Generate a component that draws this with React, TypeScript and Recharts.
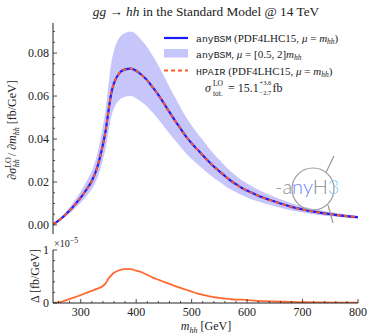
import React from 'react';
import { ComposedChart, Area, Line, XAxis, YAxis } from 'recharts';

// ---------- data ----------
const mhh = [250, 260, 270, 280, 290, 300, 310, 320, 330, 340, 345, 350, 355, 360, 370, 380, 390, 400, 410, 420, 430, 440, 450, 460, 470, 480, 490, 500, 510, 520, 530, 540, 550, 560, 570, 580, 590, 600, 620, 640, 660, 680, 700, 720, 740, 760, 780, 800];
const anyBSM = [0.0003, 0.0020, 0.0042, 0.0067, 0.0096, 0.0127, 0.0164, 0.0205, 0.0270, 0.0375, 0.0440, 0.0530, 0.0612, 0.0660, 0.0708, 0.0724, 0.0728, 0.0718, 0.0698, 0.0673, 0.0640, 0.0605, 0.0566, 0.0525, 0.0486, 0.0448, 0.0411, 0.0380, 0.0352, 0.0325, 0.0298, 0.0272, 0.0250, 0.0228, 0.0207, 0.0190, 0.0173, 0.0160, 0.0136, 0.0117, 0.0100, 0.0084, 0.0072, 0.0062, 0.0054, 0.0047, 0.0041, 0.0036];
const hpair = [0.0003, 0.0020, 0.0042, 0.0067, 0.0096, 0.0127, 0.0164, 0.0205, 0.0270, 0.0375, 0.0440, 0.0530, 0.0612, 0.0660, 0.0708, 0.0724, 0.0728, 0.0718, 0.0698, 0.0673, 0.0640, 0.0605, 0.0566, 0.0525, 0.0486, 0.0448, 0.0411, 0.0380, 0.0352, 0.0325, 0.0298, 0.0272, 0.0250, 0.0228, 0.0207, 0.0190, 0.0173, 0.0160, 0.0136, 0.0117, 0.0100, 0.0084, 0.0072, 0.0062, 0.0054, 0.0047, 0.0041, 0.0036];
const bandUpper = [0.0004, 0.0025, 0.0052, 0.0082, 0.0118, 0.0156, 0.0201, 0.0252, 0.0332, 0.0461, 0.0541, 0.0652, 0.0753, 0.0812, 0.0872, 0.0893, 0.0900, 0.0887, 0.0860, 0.0827, 0.0786, 0.0742, 0.0693, 0.0642, 0.0594, 0.0547, 0.0501, 0.0463, 0.0428, 0.0395, 0.0362, 0.0330, 0.0303, 0.0276, 0.0250, 0.0229, 0.0209, 0.0193, 0.0164, 0.0141, 0.0120, 0.0101, 0.0086, 0.0074, 0.0065, 0.0056, 0.0049, 0.0043];
const bandLower = [0.0002, 0.0016, 0.0034, 0.0054, 0.0078, 0.0103, 0.0133, 0.0166, 0.0219, 0.0304, 0.0357, 0.0432, 0.0502, 0.0543, 0.0583, 0.0597, 0.0600, 0.0590, 0.0572, 0.0550, 0.0522, 0.0492, 0.0460, 0.0426, 0.0394, 0.0363, 0.0333, 0.0307, 0.0284, 0.0262, 0.0240, 0.0219, 0.0201, 0.0183, 0.0166, 0.0152, 0.0139, 0.0128, 0.0109, 0.0094, 0.0080, 0.0067, 0.0058, 0.0050, 0.0043, 0.0038, 0.0033, 0.0029];
// difference anyBSM - HPAIR in units of 1e-5 fb/GeV
const delta = [0, 0.01, 0.04, 0.075, 0.11, 0.15, 0.19, 0.23, 0.27, 0.32, 0.37, 0.46, 0.52, 0.57, 0.62, 0.64, 0.64, 0.61, 0.58, 0.53, 0.48, 0.44, 0.40, 0.36, 0.32, 0.285, 0.25, 0.215, 0.18, 0.155, 0.13, 0.11, 0.095, 0.083, 0.072, 0.064, 0.062, 0.055, 0.042, 0.032, 0.026, 0.02, 0.016, 0.012, 0.01, 0.008, 0.006, 0.005];

const xMajorTicks = [300, 400, 500, 600, 700, 800];
const xMinorTicks = [260, 280, 320, 340, 360, 380, 420, 440, 460, 480, 520, 540, 560, 580, 620, 640, 660, 680, 720, 740, 760, 780];
const yMajorTicks = [0, 0.02, 0.04, 0.06, 0.08];
const yMinorTicks = [0.005, 0.01, 0.015, 0.025, 0.03, 0.035, 0.045, 0.05, 0.055, 0.065, 0.07, 0.075, 0.085, 0.09];
const yMajorLabels = ['0.00', '0.02', '0.04', '0.06', '0.08'];
const dMajorTicks = [0, 1];
const dMajorLabels = ['0', '1'];
const dMinorTicks = [0.2, 0.4, 0.6, 0.8];

const xDomain = [250, 800];
const yDomain = [-0.0042, 0.094];
const dDomain = [0, 1];

const mainData = mhh.map((m, i) => ({ m, central: anyBSM[i], hpair: hpair[i], band: [bandLower[i], bandUpper[i]] }));
const deltaData = mhh.map((m, i) => ({ m, delta: delta[i] }));

const allX = [...xMajorTicks, ...xMinorTicks];
const allY = [...yMajorTicks, ...yMinorTicks];
const allD = [...dMajorTicks, ...dMinorTicks];

const FONT = '"Liberation Serif", "DejaVu Serif", serif';
const MONO = '"Liberation Mono", "DejaVu Sans Mono", monospace';
const INK = '#222';
const MAJ = 4;
const MIN = 2;

const isMajor = (list: number[], v: number) => list.some((t) => Math.abs(t - v) < 1e-9);

const BottomTick = (withLabel: boolean) => (p: any) => {
  const v = p.payload.value;
  const major = isMajor(xMajorTicks, v);
  return (
    <g>
      <line x1={p.x} x2={p.x} y1={p.y} y2={p.y - (major ? MAJ : MIN)} stroke={INK} strokeWidth={0.8} />
      {withLabel && major ? (
        <text x={p.x} y={p.y + 13} textAnchor="middle" fontFamily={FONT} fontSize={12} fill={INK}>{v}</text>
      ) : null}
    </g>
  );
};
const TopTick = (p: any) => {
  const major = isMajor(xMajorTicks, p.payload.value);
  return <line x1={p.x} x2={p.x} y1={p.y} y2={p.y + (major ? MAJ : MIN)} stroke={INK} strokeWidth={0.8} />;
};
const LeftTick = (majors: number[], labels: string[]) => (p: any) => {
  const v = p.payload.value;
  const idx = majors.findIndex((t) => Math.abs(t - v) < 1e-9);
  const major = idx >= 0;
  return (
    <g>
      <line x1={p.x} x2={p.x + (major ? MAJ : MIN)} y1={p.y} y2={p.y} stroke={INK} strokeWidth={0.8} />
      {major ? (
        <text x={p.x - 4} y={p.y + 4} textAnchor="end" fontFamily={FONT} fontSize={12} fill={INK}>{labels[idx]}</text>
      ) : null}
    </g>
  );
};
const RightTick = (majors: number[]) => (p: any) => {
  const major = isMajor(majors, p.payload.value);
  return <line x1={p.x} x2={p.x - (major ? MAJ : MIN)} y1={p.y} y2={p.y} stroke={INK} strokeWidth={0.8} />;
};

const axisLine = { stroke: INK, strokeWidth: 1 };

export default function App() {
  return (
    <div style={{ position: 'absolute', left: 0, top: 0, width: 369, height: 335, background: '#fff' }}>
      <div style={{ position: 'absolute', left: 0, top: 0 }}>
        <ComposedChart width={369} height={240} data={mainData} margin={{ top: 23, right: 11, bottom: 6, left: 0 }}>
          <XAxis xAxisId="b" dataKey="m" type="number" domain={xDomain} allowDataOverflow ticks={allX} interval={0}
            height={0} tickSize={0} tickMargin={0} tickLine={false} axisLine={axisLine} tick={BottomTick(false)} />
          <XAxis xAxisId="t" orientation="top" dataKey="m" type="number" domain={xDomain} allowDataOverflow ticks={allX} interval={0}
            height={0} tickSize={0} tickMargin={0} tickLine={false} axisLine={axisLine} tick={TopTick} />
          <YAxis yAxisId="l" type="number" domain={yDomain} allowDataOverflow ticks={allY} interval={0}
            width={53} tickSize={0} tickMargin={0} tickLine={false} axisLine={axisLine} tick={LeftTick(yMajorTicks, yMajorLabels)} />
          <YAxis yAxisId="r" orientation="right" type="number" domain={yDomain} allowDataOverflow ticks={allY} interval={0}
            width={0} tickSize={0} tickMargin={0} tickLine={false} axisLine={axisLine} tick={RightTick(yMajorTicks)} />
          <Area xAxisId="b" yAxisId="l" dataKey="band" type="monotone" stroke="none" fill="#c6c6fa" fillOpacity={1} isAnimationActive={false} />
          <Line xAxisId="b" yAxisId="l" dataKey="central" type="monotone" stroke="#1a1aff" strokeWidth={2.2} dot={false} isAnimationActive={false} />
          <Line xAxisId="b" yAxisId="l" dataKey="hpair" type="monotone" stroke="#ff5a26" strokeWidth={1.8} strokeDasharray="4 3" dot={false} isAnimationActive={false} />
        </ComposedChart>
      </div>
      <div style={{ position: 'absolute', left: 0, top: 240 }}>
        <ComposedChart width={369} height={95} data={deltaData} margin={{ top: 10, right: 11, bottom: 0, left: 0 }}>
          <XAxis xAxisId="b" dataKey="m" type="number" domain={xDomain} allowDataOverflow ticks={allX} interval={0}
            height={32} tickSize={0} tickMargin={0} tickLine={false} axisLine={axisLine} tick={BottomTick(true)} />
          <XAxis xAxisId="t" orientation="top" dataKey="m" type="number" domain={xDomain} allowDataOverflow ticks={allX} interval={0}
            height={0} tickSize={0} tickMargin={0} tickLine={false} axisLine={axisLine} tick={TopTick} />
          <YAxis yAxisId="l" type="number" domain={dDomain} allowDataOverflow ticks={allD} interval={0}
            width={53} tickSize={0} tickMargin={0} tickLine={false} axisLine={axisLine} tick={LeftTick(dMajorTicks, dMajorLabels)} />
          <YAxis yAxisId="r" orientation="right" type="number" domain={dDomain} allowDataOverflow ticks={allD} interval={0}
            width={0} tickSize={0} tickMargin={0} tickLine={false} axisLine={axisLine} tick={RightTick(dMajorTicks)} />
          <Line xAxisId="b" yAxisId="l" dataKey="delta" type="monotone" stroke="#ff6a33" strokeWidth={1.8} dot={false} isAnimationActive={false} />
        </ComposedChart>
      </div>
      <svg width={369} height={335} style={{ position: 'absolute', left: 0, top: 0, pointerEvents: 'none' }}>
        {/* title */}
        <text x={206} y={16} textAnchor="middle" fontFamily={FONT} fontSize={13.3} fill={INK}>
          <tspan fontStyle="italic">gg</tspan> → <tspan fontStyle="italic">hh</tspan> in the Standard Model @ 14 TeV
        </text>
        {/* top y label */}
        <text transform="translate(15.5,130) rotate(-90)" textAnchor="middle" fontFamily={FONT} fontSize={12} fill={INK}>
          ∂<tspan fontStyle="italic">σ</tspan><tspan fontSize={8} dy={-5}>LO</tspan><tspan fontSize={8} fontStyle="italic" dx={-10} dy={8}>hh</tspan><tspan dy={-3}> / ∂</tspan><tspan fontStyle="italic">m</tspan><tspan fontSize={8} fontStyle="italic" dy={3}>hh</tspan><tspan dy={-3}> [fb/GeV]</tspan>
        </text>
        {/* bottom y label */}
        <text transform="translate(39,276) rotate(-90)" textAnchor="middle" fontFamily={FONT} fontSize={12} fill={INK}>
          Δ [fb/GeV]
        </text>
        {/* scale factor */}
        <text x={54} y={247} fontFamily={FONT} fontSize={10} fill={INK}>
          ×10<tspan fontSize={8} dy={-4}>−5</tspan>
        </text>
        {/* x label */}
        <text x={206} y={330} textAnchor="middle" fontFamily={FONT} fontSize={12} fill={INK}>
          <tspan fontStyle="italic">m</tspan><tspan fontSize={8} fontStyle="italic" dy={3}>hh</tspan><tspan dy={-3}> [GeV]</tspan>
        </text>
        {/* legend */}
        <line x1={164} x2={188} y1={38} y2={38} stroke="#1a1aff" strokeWidth={2.2} />
        <text x={196} y={42} fontFamily={FONT} fontSize={11} fill={INK}>
          <tspan fontFamily={MONO} fontSize={9.8}>anyBSM</tspan> (PDF4LHC15, <tspan fontStyle="italic">μ</tspan> = <tspan fontStyle="italic">m</tspan><tspan fontSize={7.5} fontStyle="italic" dy={2}>hh</tspan><tspan dy={-2}>)</tspan>
        </text>
        <rect x={164} y={49} width={24} height={8.5} fill="#c6c6fa" />
        <text x={196} y={57.5} fontFamily={FONT} fontSize={11} fill={INK}>
          <tspan fontFamily={MONO} fontSize={9.8}>anyBSM</tspan>, <tspan fontStyle="italic">μ</tspan> = [0.5, 2]<tspan fontStyle="italic">m</tspan><tspan fontSize={7.5} fontStyle="italic" dy={2}>hh</tspan>
        </text>
        <line x1={164} x2={188} y1={70.5} y2={70.5} stroke="#ff5a26" strokeWidth={1.8} strokeDasharray="4 3" />
        <text x={196} y={74.5} fontFamily={FONT} fontSize={11} fill={INK}>
          <tspan fontFamily={MONO} fontSize={9.8}>HPAIR</tspan> (PDF4LHC15, <tspan fontStyle="italic">μ</tspan> = <tspan fontStyle="italic">m</tspan><tspan fontSize={7.5} fontStyle="italic" dy={2}>hh</tspan><tspan dy={-2}>)</tspan>
        </text>
        {/* total cross section */}
        <text x={205} y={91.5} fontFamily={FONT} fontSize={12} fontStyle="italic" fill={INK}>σ</text>
        <text x={213} y={85.5} fontFamily={FONT} fontSize={7.5} fill={INK}>LO</text>
        <text x={213} y={95.5} fontFamily={FONT} fontSize={7.5} fill={INK}>tot.</text>
        <text x={228} y={91.5} fontFamily={FONT} fontSize={12} fill={INK}>= 15.1</text>
        <text x={259.5} y={85} fontFamily={FONT} fontSize={6.5} fill={INK}>+3.6</text>
        <text x={259.5} y={95} fontFamily={FONT} fontSize={6.5} fill={INK}>−2.7</text>
        <text x={272.5} y={91.5} fontFamily={FONT} fontSize={12} fill={INK}>fb</text>
        {/* anyH3 logo */}
        <g>
          <circle cx={313} cy={189} r={21} fill="none" stroke="#9a9a9a" strokeWidth={1.2} />
          <line x1={326} x2={334} y1={172.5} y2={156} stroke="#9a9a9a" strokeWidth={1.2} />
          <line x1={328} x2={333} y1={205} y2={223} stroke="#9a9a9a" strokeWidth={1.2} />
          <text x={275} y={194} fontFamily='Lato, "DejaVu Sans", sans-serif' fontWeight={300} fontSize={20} fill="#8c8c8c">
            -a<tspan fill="#6f7fff">ny</tspan>H<tspan fill="#8fcbf2">3</tspan>
          </text>
        </g>
      </svg>
    </div>
  );
}
